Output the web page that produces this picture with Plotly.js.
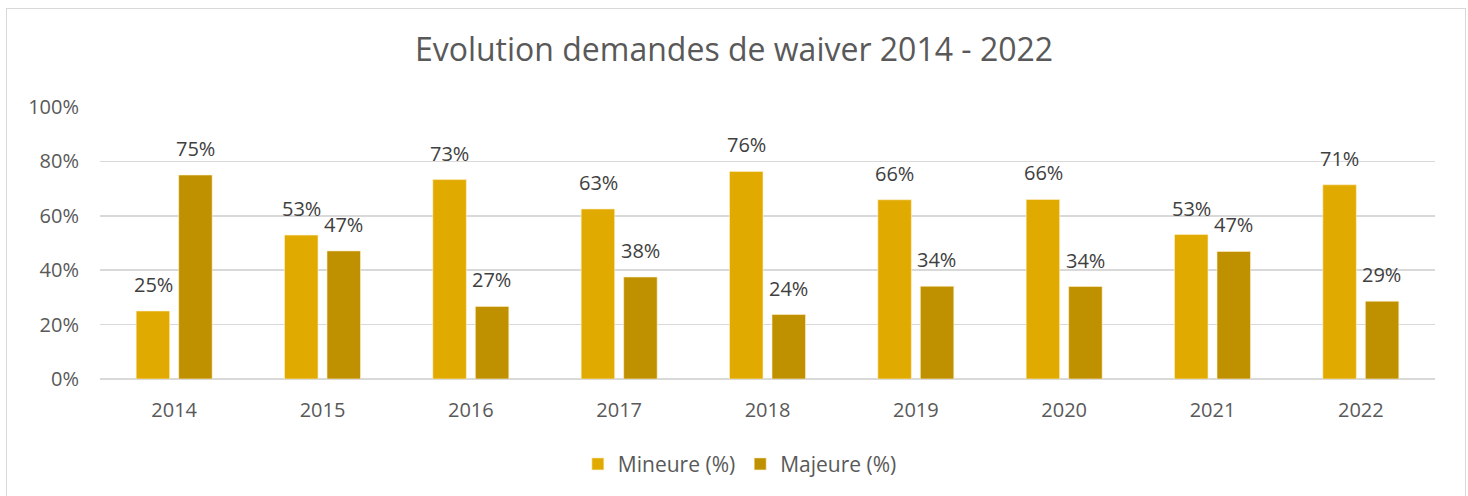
<!DOCTYPE html>
<html>
<head>
<meta charset="utf-8">
<script src="https://cdn.plot.ly/plotly-3.0.1.min.js"></script>
<style>
html,body{margin:0;padding:0;background:#fff;overflow:hidden;}
#chart{width:1468px;height:496px;}
#frame{position:absolute;left:6px;top:8px;width:1458px;height:500px;border:1px solid #d9d9d9;pointer-events:none;}
</style>
</head>
<body>
<div id="chart"></div>
<div id="frame"></div>
<script>
const years = ['2014','2015','2016','2017','2018','2019','2020','2021','2022'];
const mineure = [25, 52.9, 73.3, 62.5, 76.3, 65.9, 66.0, 53.1, 71.4];
const majeure = [75, 47.1, 26.7, 37.5, 23.7, 34.1, 34.0, 46.9, 28.6];
const seriesNames = ['Mineure (%)', 'Majeure (%)'];
const colors = ['#E1AA00', '#BF9000'];

const labelFont = {family: 'Open Sans, sans-serif', size: 20, color: '#404040'};

function bar(name, values, color) {
  return {
    type: 'bar', name: name, x: years, y: values,
    marker: {color: color, line: {color: 'rgba(255,240,200,0.6)', width: 1}},
    hoverinfo: 'skip'
  };
}

const data = [bar(seriesNames[0], mineure, colors[0]), bar(seriesNames[1], majeure, colors[1])];

const annotations = [];
[[mineure, -21], [majeure, 21]].forEach(([vals, dx]) => {
  vals.forEach((v, i) => {
    annotations.push({
      x: i, y: v, xref: 'x', yref: 'y', xshift: dx, yshift: 11,
      yanchor: 'bottom', xanchor: 'center', showarrow: false,
      text: Math.round(v) + '%', font: labelFont
    });
  });
});

const layout = {
  width: 1468, height: 496,
  margin: {l: 100, r: 33, t: 107, b: 117},
  paper_bgcolor: '#ffffff', plot_bgcolor: '#ffffff',
  barmode: 'group', bargap: 0.427, bargroupgap: 0.212,
  title: {text: 'Evolution demandes de waiver 2014 - 2022',
    font: {family: 'Open Sans, sans-serif', size: 32, color: '#595959'},
    x: 0.5, xref: 'container', xanchor: 'center', y: 0.9, yref: 'container', yanchor: 'middle'},
  font: {family: 'Open Sans, sans-serif', color: '#595959'},
  xaxis: {type: 'category', categoryarray: years, range: [-0.5, years.length - 0.5], showgrid: false, zeroline: false, showline: false,
    ticks: '', tickfont: {size: 20, color: '#595959'}, ticklabelstandoff: 17},
  yaxis: {range: [0, 100], dtick: 20, ticksuffix: '%', showgrid: true, gridcolor: '#d9d9d9', gridwidth: 1.5,
    zeroline: true, zerolinecolor: '#d9d9d9', zerolinewidth: 1.5, showline: false, ticks: '',
    tickfont: {size: 20, color: '#595959'}, ticklabelstandoff: 20},
  annotations: annotations,
  showlegend: true,
  legend: {orientation: 'h', xref: 'container', x: 0.504, xanchor: 'center', yref: 'container', y: 0.064, yanchor: 'middle',
    font: {size: 21, color: '#595959'}, traceorder: 'normal', itemclick: false},
};

Plotly.newPlot('chart', data, layout, {displayModeBar: false, staticPlot: true});
</script>
</body>
</html>
